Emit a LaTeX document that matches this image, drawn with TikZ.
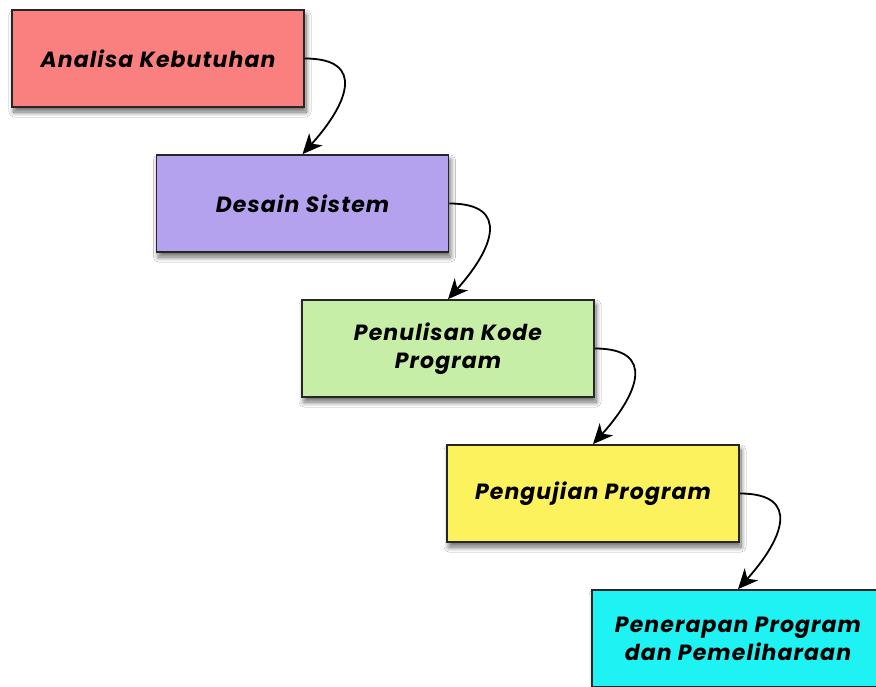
\documentclass[tikz,border=0pt]{standalone}
\usepackage{fontspec}
\setmainfont{Poppins}
\usetikzlibrary{shadows.blur,arrows.meta}
\definecolor{c1}{HTML}{FA8080}
\definecolor{c2}{HTML}{B5A2EE}
\definecolor{c3}{HTML}{C6EEA6}
\definecolor{c4}{HTML}{FCF25E}
\definecolor{c5}{HTML}{1EF2F2}
\tikzset{
  stage/.style={draw=black!85, line width=1.7pt, minimum width=292pt, minimum height=97pt,
    align=center, font=\fontsize{22}{28}\selectfont\bfseries\itshape\addfontfeatures{LetterSpace=5},
    blur shadow={shadow xshift=2pt, shadow yshift=-5pt, shadow blur steps=10, shadow blur radius=5pt, shadow opacity=60}},
  flow/.style={line width=1.8pt, -{Stealth[length=20pt,width=18pt,inset=6pt]}}
}
\begin{document}
\begin{tikzpicture}[x=1pt,y=-1pt]
\fill[white] (0,0) rectangle (876,686);
\useasboundingbox (0,0) rectangle (876,686);
\node[stage, fill=c1] (b1) at (158,58.5) {Analisa Kebutuhan};
\node[stage, fill=c2] (b2) at (302.5,203.5) {Desain Sistem};
\node[stage, fill=c3] (b3) at (448,348.5) {Penulisan Kode\\Program};
\node[stage, fill=c4] (b4) at (593,493.5) {Pengujian Program};
\node[stage, fill=c5] (b5) at (738,638.5) {Penerapan Program\\dan Pemeliharaan};
\foreach \a/\b in {b1/b2,b2/b3,b3/b4,b4/b5}{
  \draw[flow] (\a.east) .. controls +(62,0) and +(45,-50) .. (\b.north);
}
\end{tikzpicture}
\end{document}
